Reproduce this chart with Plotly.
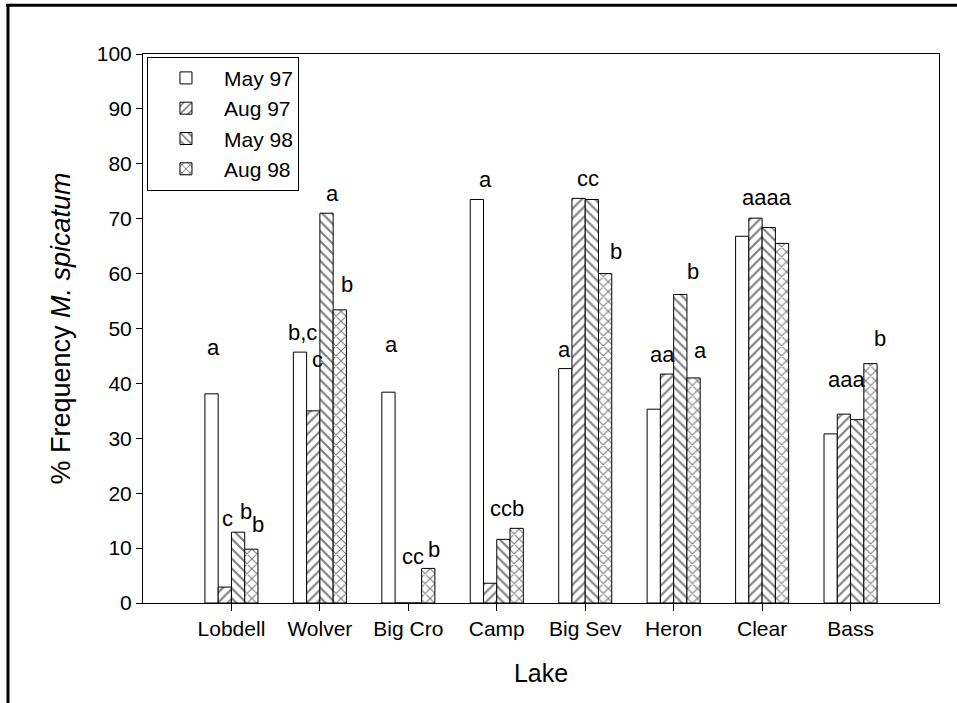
import plotly.graph_objects as go

lakes = ["Lobdell", "Wolver", "Big Cro", "Camp", "Big Sev", "Heron", "Clear", "Bass"]
may97 = [38.1, 45.7, 38.4, 73.5, 42.7, 35.3, 66.8, 30.8]
aug97 = [2.9, 35.0, 0.0, 3.6, 73.7, 41.7, 70.1, 34.4]
may98 = [12.9, 71.0, 0.0, 11.6, 73.5, 56.2, 68.4, 33.4]
aug98 = [9.8, 53.4, 6.3, 13.6, 60.0, 41.0, 65.5, 43.6]
series_names = ["May 97", "Aug 97", "May 98", "Aug 98"]

# significance letters: (text, x position in category units, y value)
sig_text = ["a", "c", "b", "b",
            "b,c", "c", "a", "b",
            "a", "cc", "b",
            "a", "ccb",
            "a", "cc", "b",
            "aa", "b", "a",
            "aaaa",
            "aaa", "b"]
sig_x = [-0.20, -0.05, 0.17, 0.30,
         0.80, 0.97, 1.14, 1.31,
         1.81, 2.05, 2.29,
         2.87, 3.12,
         3.77, 4.03, 4.35,
         4.87, 5.22, 5.30,
         6.05,
         6.95, 7.33]
sig_y = [46.5, 15.4, 16.7, 14.3,
         49.2, 44.3, 74.6, 58.0,
         47.0, 8.4, 9.8,
         77.1, 17.3,
         46.1, 77.4, 64.0,
         45.2, 60.4, 46.0,
         73.8,
         40.7, 48.1]

FONT = "Liberation Sans, Arial, sans-serif"
patterns = ["", "/", "\\", "x"]
values = [may97, aug97, may98, aug98]

fig = go.Figure()
for name, vals, pat in zip(series_names, values, patterns):
    fig.add_trace(go.Bar(
        x=lakes, y=vals, name=name,
        marker=dict(color="white",
                    line=dict(color="black", width=1),
                    pattern=dict(shape=pat, fgcolor="black", bgcolor="white",
                                 size=7, solidity=0.3)),
    ))

annotations = []
for t, xv, yv in zip(sig_text, sig_x, sig_y):
    annotations.append(dict(x=xv, y=yv, xref="x", yref="y", text=t,
                            showarrow=False, font=dict(size=22, color="black", family=FONT),
                            xanchor="center", yanchor="middle"))

fig.update_layout(
    width=957, height=703,
    margin=dict(l=143, r=18, t=54, b=100),
    paper_bgcolor="white", plot_bgcolor="white",
    barmode="group", bargap=0.4, bargroupgap=0,
    font=dict(family=FONT, size=21, color="black"),
    annotations=annotations,
    showlegend=True,
    legend=dict(x=0.005, y=0.995, xanchor="left", yanchor="top",
                bordercolor="black", borderwidth=1, bgcolor="white",
                itemwidth=66,
                font=dict(size=21, family=FONT), tracegroupgap=0),
    shapes=[
        dict(type="line", xref="paper", yref="paper", x0=-0.172, x1=1.03,
             y0=1.0889, y1=1.0889, line=dict(color="black", width=3)),
        dict(type="line", xref="paper", yref="paper", x0=-0.1696, x1=-0.1696,
             y0=1.0889, y1=-0.2, line=dict(color="black", width=3)),
    ],
)
fig.update_xaxes(range=[-1, 8], showline=True, linecolor="black", linewidth=1,
                 mirror=True, ticks="outside", ticklen=7, tickcolor="black",
                 showgrid=False, tickfont=dict(size=21),
                 title=dict(text="Lake", font=dict(size=25), standoff=25))
fig.update_yaxes(range=[0, 100], dtick=10, showline=True, linecolor="black", linewidth=1,
                 mirror=True, ticks="outside", ticklen=6, tickcolor="black",
                 showgrid=False, zeroline=False, tickfont=dict(size=21),
                 title=dict(text="% Frequency <i>M. spicatum</i>", font=dict(size=27), standoff=18))

fig.write_html("out.html", config={"displayModeBar": False},
               post_script="document.body.style.margin='0';document.body.style.overflow='hidden';")
